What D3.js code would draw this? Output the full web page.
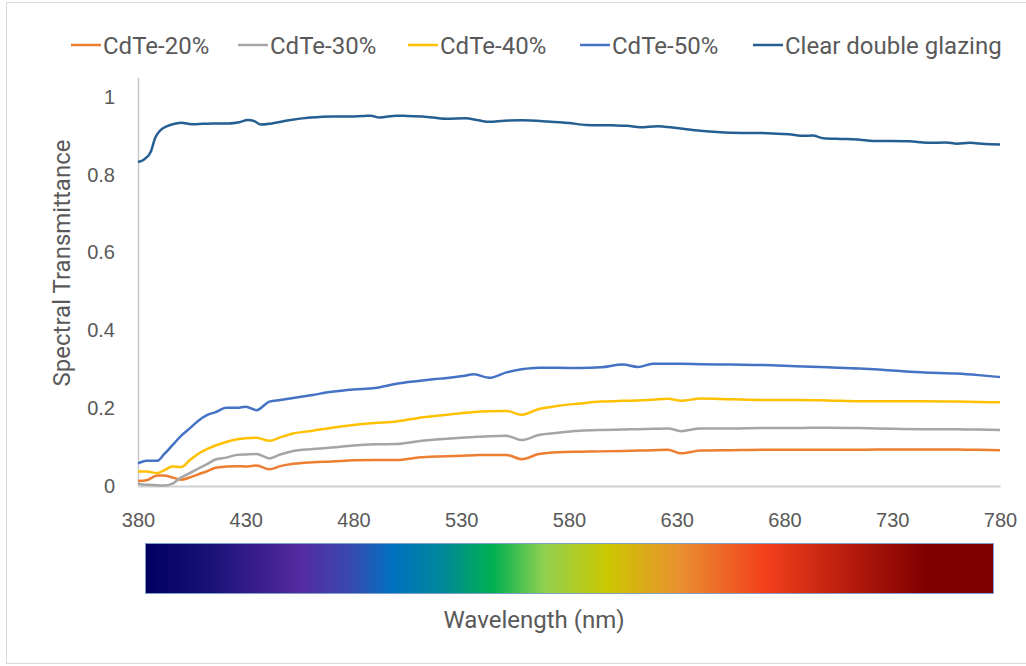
<!DOCTYPE html>
<html>
<head>
  <meta charset="utf-8">
  <title>Spectral Transmittance</title>
  <script src="https://cdn.jsdelivr.net/npm/d3@7/dist/d3.min.js"></script>
  <style>
    body { margin: 0; background: #fff; }
    svg { display: block; font-family: Roboto, "Liberation Sans", sans-serif; }
    .lbl { fill: #595959; }
  </style>
</head>
<body>
  <svg width="1026" height="666"></svg>

  <script>
    // wavelengths (nm) shared by the CdTe series
    var wl = [380, 384, 389, 392, 396, 400, 404, 408, 412, 416, 421, 426, 430, 435, 441, 446, 452, 461, 470, 480,
              490, 500, 510, 520, 530, 536, 543, 551, 558, 566, 575, 585, 595, 605, 612, 619, 626, 632, 641, 655,
              670, 685, 700, 715, 730, 745, 760, 770, 780];

    var cdte20 = [0.013, 0.015, 0.027, 0.027, 0.022, 0.016, 0.022, 0.030, 0.038, 0.047, 0.050, 0.051, 0.050, 0.053, 0.043, 0.051, 0.057, 0.061, 0.063, 0.066,
                  0.067, 0.067, 0.073, 0.076, 0.078, 0.079, 0.080, 0.080, 0.069, 0.082, 0.087, 0.088, 0.089, 0.090, 0.091, 0.092, 0.093, 0.084, 0.091, 0.092,
                  0.093, 0.093, 0.093, 0.093, 0.094, 0.094, 0.094, 0.093, 0.092];

    var cdte30 = [0.005, 0.003, 0.002, 0.001, 0.006, 0.022, 0.033, 0.045, 0.056, 0.068, 0.073, 0.080, 0.081, 0.082, 0.071, 0.081, 0.090, 0.095, 0.099, 0.104,
                  0.107, 0.108, 0.115, 0.120, 0.124, 0.126, 0.128, 0.129, 0.118, 0.131, 0.137, 0.142, 0.144, 0.145, 0.146, 0.147, 0.148, 0.141, 0.148, 0.148,
                  0.149, 0.149, 0.150, 0.149, 0.147, 0.146, 0.146, 0.145, 0.144];

    var cdte40 = [0.037, 0.037, 0.033, 0.040, 0.050, 0.049, 0.066, 0.083, 0.095, 0.104, 0.113, 0.120, 0.123, 0.124, 0.116, 0.125, 0.135, 0.142, 0.150, 0.157,
                  0.162, 0.166, 0.175, 0.181, 0.187, 0.190, 0.192, 0.193, 0.183, 0.198, 0.206, 0.212, 0.217, 0.219, 0.220, 0.222, 0.224, 0.219, 0.225, 0.223,
                  0.221, 0.221, 0.220, 0.218, 0.218, 0.218, 0.217, 0.216, 0.215];

    var cdte50 = [0.058, 0.065, 0.065, 0.081, 0.105, 0.129, 0.148, 0.168, 0.182, 0.190, 0.201, 0.201, 0.204, 0.195, 0.217, 0.221, 0.226, 0.234, 0.242, 0.248,
                  0.252, 0.263, 0.270, 0.276, 0.282, 0.287, 0.278, 0.292, 0.300, 0.304, 0.304, 0.303, 0.305, 0.312, 0.306, 0.314, 0.314, 0.314, 0.313, 0.312,
                  0.311, 0.308, 0.305, 0.302, 0.297, 0.292, 0.289, 0.285, 0.280];

    // clear double glazing has its own wavelength points
    var wlClear = [380, 383, 386, 388, 390, 392, 396, 400, 405, 410, 415, 422, 427, 431, 434, 437, 442, 450, 460, 470,
                   480, 485, 488, 492, 500, 505, 512, 523, 532, 538, 543, 550, 558, 570, 580, 588, 600, 607, 613, 621,
                   630, 641, 655, 672, 682, 689, 693, 698, 708, 715, 721, 738, 746, 755, 760, 766, 773, 780];

    var clearGlazing = [0.833, 0.840, 0.860, 0.895, 0.912, 0.921, 0.930, 0.934, 0.930, 0.931, 0.932, 0.932, 0.935, 0.941, 0.938, 0.929, 0.932, 0.940, 0.947, 0.950,
                        0.950, 0.951, 0.952, 0.947, 0.952, 0.951, 0.950, 0.944, 0.945, 0.940, 0.936, 0.939, 0.940, 0.937, 0.933, 0.928, 0.927, 0.926, 0.922, 0.925,
                        0.920, 0.913, 0.908, 0.907, 0.904, 0.900, 0.901, 0.894, 0.892, 0.890, 0.887, 0.886, 0.882, 0.883, 0.880, 0.882, 0.879, 0.878];

    var seriesNames = ["CdTe-20%", "CdTe-30%", "CdTe-40%", "CdTe-50%", "Clear double glazing"];
    var xTicks = [380, 430, 480, 530, 580, 630, 680, 730, 780];
    var yTicks = [0, 0.2, 0.4, 0.6, 0.8, 1];

    var colors = ["#ed7d31", "#a5a5a5", "#ffc000", "#4472c4", "#255e91"];

    var series = [
      { name: seriesNames[0], xs: wl, ys: cdte20 },
      { name: seriesNames[1], xs: wl, ys: cdte30 },
      { name: seriesNames[2], xs: wl, ys: cdte40 },
      { name: seriesNames[3], xs: wl, ys: cdte50 },
      { name: seriesNames[4], xs: wlClear, ys: clearGlazing }
    ];

    var svg = d3.select("svg");

    // outer chart border
    svg.append("rect")
       .attr("x", 6.5).attr("y", 2.5)
       .attr("width", 1040).attr("height", 661)
       .attr("fill", "none")
       .attr("stroke", "#d9d9d9");

    var x = d3.scaleLinear().domain([380, 780]).range([138, 1000]),
        y = d3.scaleLinear().domain([0, 1.05]).range([486, 77.5]);

    // y axis
    var yAxis = svg.append("g")
       .attr("transform", "translate(138,0)")
       .call(d3.axisLeft(y).tickValues(yTicks).tickSize(0).tickSizeOuter(0).tickPadding(23)
               .tickFormat(function(d) { return d3.format("~g")(d); }));
    yAxis.select(".domain").attr("stroke", "#c8c8c8").attr("stroke-width", 1.5);
    yAxis.selectAll("text").attr("class", "lbl").attr("font-size", 20).attr("font-family", null);

    // x axis
    var xAxis = svg.append("g")
       .attr("transform", "translate(0,486)")
       .call(d3.axisBottom(x).tickValues(xTicks).tickSize(0).tickSizeOuter(0));
    xAxis.select(".domain").attr("stroke", "#d0d0d0").attr("stroke-width", 2);
    xAxis.selectAll("text").attr("class", "lbl").attr("font-size", 20).attr("font-family", null)
         .attr("y", 41).attr("dy", 0);

    // lines
    var line = d3.line()
       .x(function(d) { return x(d[0]); })
       .y(function(d) { return y(d[1]); })
       .curve(d3.curveMonotoneX);

    svg.selectAll(".series")
       .data(series)
       .enter().append("path")
       .attr("class", "series")
       .attr("fill", "none")
       .attr("stroke", function(d, i) { return colors[i]; })
       .attr("stroke-width", 2.5)
       .attr("stroke-linejoin", "round")
       .attr("d", function(d) { return line(d.xs.map(function(v, i) { return [v, d.ys[i]]; })); });

    // legend
    var legX = [71, 238, 408, 580, 753];
    var leg = svg.selectAll(".leg")
       .data(series)
       .enter().append("g")
       .attr("class", "leg")
       .attr("transform", function(d, i) { return "translate(" + legX[i] + ",45)"; });
    leg.append("line")
       .attr("x1", 0).attr("x2", 30)
       .attr("stroke", function(d, i) { return colors[i]; })
       .attr("stroke-width", 2.5);
    leg.append("text")
       .attr("class", "lbl")
       .attr("x", 32).attr("y", 8.5)
       .attr("font-size", 24)
       .text(function(d) { return d.name; });

    // y axis title
    svg.append("text")
       .attr("class", "lbl")
       .attr("transform", "translate(70,263) rotate(-90)")
       .attr("text-anchor", "middle")
       .attr("font-size", 24)
       .text("Spectral Transmittance");

    // spectrum bar
    var defs = svg.append("defs");
    var grad = defs.append("linearGradient").attr("id", "spectrum");
    var stops = [
      [0, "#00005f"], [0.08, "#1b1278"], [0.18, "#55299f"], [0.24, "#3a48b0"],
      [0.29, "#0070c0"], [0.35, "#00889a"], [0.41, "#00b050"], [0.47, "#92d050"],
      [0.545, "#cbc800"], [0.63, "#e89030"], [0.73, "#f4401c"], [0.84, "#b0180c"],
      [0.92, "#800000"], [1, "#800000"]
    ];
    grad.selectAll("stop").data(stops).enter().append("stop")
        .attr("offset", function(d) { return d[0]; })
        .attr("stop-color", function(d) { return d[1]; });

    svg.append("rect")
       .attr("x", 145.5).attr("y", 543.5)
       .attr("width", 848).attr("height", 50)
       .attr("fill", "url(#spectrum)")
       .attr("stroke", "#7f9fc8")
       .attr("stroke-width", 1);

    svg.append("text")
       .attr("class", "lbl")
       .attr("x", 534).attr("y", 628)
       .attr("text-anchor", "middle")
       .attr("font-size", 24)
       .text("Wavelength (nm)");
  </script>
</body>
</html>
